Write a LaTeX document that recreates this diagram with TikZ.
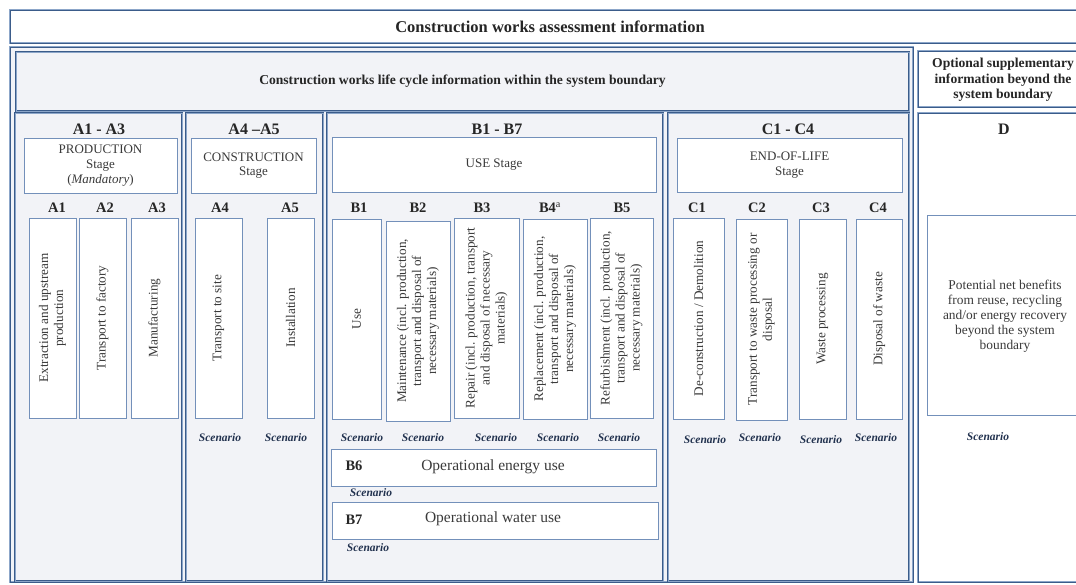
\documentclass[tikz,border=0pt]{standalone}
\usepackage{fontspec}
\setmainfont{Liberation Serif}
\usetikzlibrary{positioning,fit}

\definecolor{framecol}{HTML}{3B5C8A}
\definecolor{lightcol}{HTML}{8CA6C9}
\definecolor{boxcol}{HTML}{7390BA}
\definecolor{panel}{HTML}{F2F3F7}
\definecolor{txtcol}{HTML}{3A3A3A}
\definecolor{navy}{HTML}{22324F}

\tikzset{
  outer/.style={draw=lightcol, line width=0.8pt, double=framecol, double distance=1pt, inner sep=0pt},
  group/.style={draw=framecol, line width=1.1pt, double=lightcol, double distance=0.7pt, fill=panel, inner sep=0pt},
  stagebox/.style={draw=boxcol, line width=0.9pt, fill=white, inner sep=0pt},
  modbox/.style={draw=boxcol, line width=0.8pt, fill=white, inner sep=0pt},
  bigtitle/.style={font=\fontsize{16.5}{19}\selectfont\bfseries, text=black!85},
  hdr/.style={font=\fontsize{13.6}{15.5}\selectfont\bfseries, text=black!85, align=center},
  grptitle/.style={font=\fontsize{16}{18}\selectfont\bfseries, text=black!85},
  modlabel/.style={font=\fontsize{14.5}{16}\selectfont\bfseries, text=black!85},
  stagetext/.style={font=\fontsize{13}{14.6}\selectfont, text=txtcol, align=center},
  modtext/.style={rotate=90, font=\fontsize{13.2}{15}\selectfont, text=txtcol, align=center},
  scen/.style={font=\fontsize{11.5}{13}\selectfont\bfseries\itshape, text=navy},
  optext/.style={font=\fontsize{15.5}{17}\selectfont, text=txtcol}
}

\begin{document}
\begin{tikzpicture}[x=1pt,y=-1pt]
\useasboundingbox (0,0) rectangle (1076,584);
\clip (0,0) rectangle (1076,584);

% top title
\node[outer, fill=white, fit={(10,10)(1095,43)}] (top) {};
\node[bigtitle] (topt) at (550,27) {Construction works assessment information};

% life cycle frame
\node[outer, fill=panel, fit={(10,47)(913,582)}] (lcf) {};
\node[group, fit={(16,52)(909,111)}] (lch) {};
\node[hdr] (lcht) at (lch.center) {Construction works life cycle information within the system boundary};

% beyond the system boundary
\node[outer, fill=white, fit={(918,51)(1095,107)}] (opt) {};
\node[hdr] (optt) at (1003,80) {Optional supplementary\\information beyond the\\system boundary};
\node[outer, fill=white, fit={(918,113)(1095,582)}] (gd) {};

% module groups
\foreach \nm/\xa/\xb in {ga/15/182, gb/186/323, gc/327/663, ge/668/909}
  \node[group, fit={(\xa,113)(\xb,581)}] (\nm) {};

\foreach \nm/\x/\txt in {ta/99/{A1 - A3}, tb/254/{A4 --A5}, tc/497/{B1 - B7}, te/788/{C1 - C4}, td/1004/{D}}
  \node[grptitle] (\nm) at (\x,129) {\txt};

% stages
\node[stagebox, fit={(24,138)(177,193)}] (sa) {};
\node[stagetext] (sat) at (sa.center) {PRODUCTION\\Stage\\(\textit{Mandatory})};
\node[stagebox, fit={(191,138)(316,193)}] (sb) {};
\node[stagetext] (sbt) at (sb.center) {CONSTRUCTION\\Stage};
\node[stagebox, fit={(332,137)(656,192)}] (sc) {};
\node[stagetext] (sct) at (sc.center) {USE Stage};
\node[stagebox, fit={(677,138)(902,192)}] (se) {};
\node[stagetext] (set) at (se.center) {END-OF-LIFE\\Stage};

% module labels
\foreach \nm/\x/\txt in {la1/57/A1, la2/105/A2, la3/157/A3, la4/220/A4, la5/290/A5,
    lb1/359/B1, lb2/418/B2, lb3/482/B3, lb4/550/{B4\textsuperscript{\mdseries a}}, lb5/622/B5,
    lc1/697/C1, lc2/757/C2, lc3/821/C3, lc4/878/C4}
  \node[modlabel] (\nm) at (\x,208) {\txt};

% modules
\foreach \nm/\xa/\xb/\ya/\yb/\txt in {
    a1/29/76/218/418/{Extraction and upstream\\production},
    a2/79/126/218/418/{Transport to factory},
    a3/131/178/218/418/{Manufacturing},
    a4/195/242/218/418/{Transport to site},
    a5/267/314/218/418/{Installation},
    b1/332/381/219/419/{Use},
    b2/386/450/221/421/{Maintenance (incl. production,\\transport and disposal of\\necessary materials)},
    b3/454/519/218/418/{Repair (incl. production, transport\\and disposal of necessary\\materials)},
    b4/523/587/219/419/{Replacement (incl. production,\\transport and disposal of\\necessary materials)},
    b5/590/653/218/418/{Refurbishment (incl. production,\\transport and disposal of\\necessary materials)},
    c1/673/724/218/419/{De-construction / Demolition},
    c2/736/787/219/420/{Transport to waste processing or\\disposal},
    c3/799/846/219/419/{Waste processing},
    c4/856/902/219/419/{Disposal of waste}}{
  \node[modbox, fit={(\xa,\ya)(\xb,\yb)}] (\nm) {};
  \node[modtext] (\nm t) at (\nm.center) {\txt};
}

% scenarios
\foreach \nm/\x/\y in {sa4/220/438, sa5/286/438, sb1/362/438, sb2/423/438, sb3/496/438,
    sb4/558/438, sb5/619/438, sc1/705/440, sc2/760/438, sc3/821/440, sc4/876/438,
    sd/988/437, sb6/371/493, sb7/368/548}
  \node[scen] (\nm) at (\x,\y) {Scenario};

% operational use
\node[stagebox, fit={(331,449)(656,486)}] (b6) {};
\node[modlabel] (b6l) at (354,466) {B6};
\node[optext] (b6t) at (493,467) {Operational energy use};
\node[stagebox, fit={(332,502)(658,539)}] (b7) {};
\node[modlabel] (b7l) at (354,520) {B7};
\node[optext] (b7t) at (493,519) {Operational water use};

% module D
\node[modbox, fit={(927,215)(1095,415)}] (d) {};
\node[stagetext, font=\fontsize{13.4}{15}\selectfont] (dt) at (1005,316) {Potential net benefits\\from reuse, recycling\\and/or energy recovery\\beyond the system\\boundary};
\end{tikzpicture}
\end{document}
